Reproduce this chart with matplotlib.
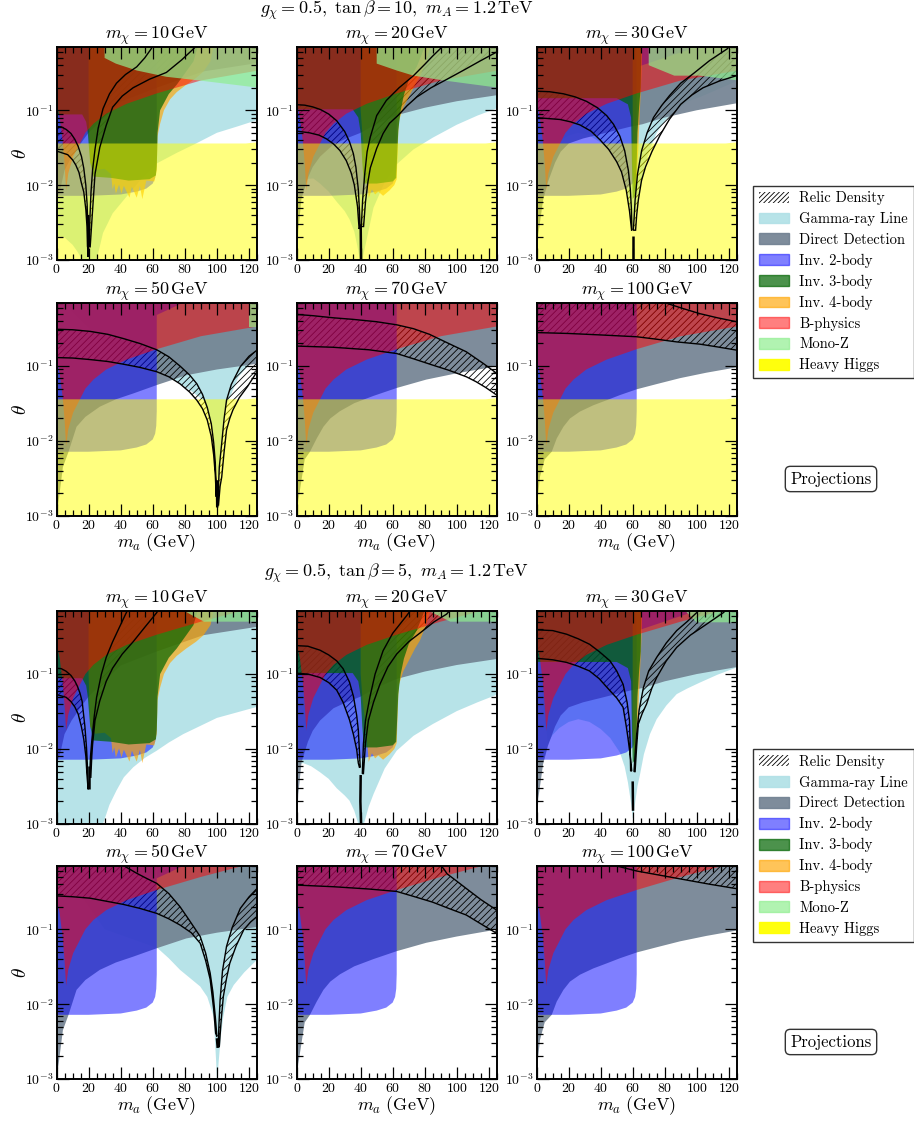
import matplotlib
matplotlib.use("Agg")
import matplotlib.pyplot as plt
from matplotlib.patches import Patch
from matplotlib.ticker import LogLocator, MultipleLocator, NullFormatter

plt.rcParams["font.family"] = ["cmr10", "DejaVu Sans"]
plt.rcParams["mathtext.fontset"] = "cm"
plt.rcParams["axes.unicode_minus"] = False
plt.rcParams["axes.formatter.use_mathtext"] = True
plt.rcParams["hatch.linewidth"] = 0.6

# every region below is an outline of (m_a [GeV], theta)
masses = [10, 20, 30, 50, 70, 100]
legend_labels = ["Relic Density", "Gamma-ray Line", "Direct Detection", "Inv. 2-body", "Inv. 3-body",
                 "Inv. 4-body", "B-physics", "Mono-Z", "Heavy Higgs"]

heavy_higgs = [(-1, .036), (118, .036), (126, .0375), (126, .0005), (-1, .0005)]

inv2_main = [(-1, .9), (-1, .0072), (20, .0072), (40, .0075), (50, .0082), (56, .009), (60, .0105), (61.5, .0125),
             (62.2, .016), (62.5, .025), (62.5, .9)]
inv2_top_m30 = [(64.6, .39), (93.7, .63), (105, .9), (64.6, .9)]
inv2_top_m50 = [(62.5, .48), (79, .7), (85, .9), (62.5, .9)]

b_physics_t10 = [(-1, .9), (-1, .125), (.4, .117), (2, .08), (3.75, .04), (5, .02), (6, .0085), (7.3, .0143),
                 (10.4, .024), (14.6, .036), (18, .05), (23, .066), (31, .09), (43.7, .122), (62.5, .168), (90, .25),
                 (126, .34), (126, .9)]
b_physics_t5 = [(-1, .9), (-1, .25), (.4, .234), (2, .163), (3.75, .08), (5, .039), (6, .0175), (7.3, .0287),
                (10.4, .048), (14.6, .072), (18, .1), (23, .133), (31, .18), (43.7, .245), (62.5, .335), (90, .5),
                (116, .7), (126, .8), (126, .9)]

dd_m10 = [(-1, .9), (-1, .0045), (1, .0072), (2.7, .0095), (5, .0158), (9.4, .024), (16.6, .04), (20, .05), (40, .13),
          (62.5, .2), (91.5, .33), (126, .43), (126, .9)]
dd_m20 = [(-1, .9), (-1, .0005), (.3, .001), (1, .0025), (3, .0066), (7, .0125), (10, .0175), (14.6, .024), (23, .035),
          (31, .042), (40, .05), (50, .066), (62.5, .086), (80, .108), (100, .132), (126, .16), (126, .9)]
dd_m30 = [(-1, .9), (-1, .0005), (.3, .001), (1, .0022), (4, .0063), (7, .011), (11.5, .02), (15, .028), (20, .036),
          (29, .042), (40, .048), (58, .06), (66, .065), (80, .08), (100, .1), (126, .125), (126, .9)]
dd_m50 = [(-1, .9), (-1, .0005), (.3, .001), (1, .0014), (4, .0045), (7.5, .0072), (12.5, .0155), (18, .021), (27, .0287),
          (37, .036), (48, .0432), (62.5, .0558), (81, .0755), (100, .09), (126, .108), (126, .9)]
dd_m70 = [(-1, .9), (-1, .0005), (.3, .001), (1, .0016), (5, .0057), (8.3, .0072), (12.5, .0108), (16.7, .0155),
          (21, .02), (27, .025), (36, .032), (48, .04), (62.5, .051), (81, .066), (100, .08), (126, .1), (126, .9)]
dd_m100 = [(-1, .9), (-1, .0005), (.4, .0015), (2, .0033), (5, .0057), (9.4, .0072), (12.5, .0108), (16.7, .0155),
           (20.8, .02), (27, .0247), (35.4, .03), (43.7, .035), (52, .041), (62.5, .049), (75, .0575), (89.6, .069),
           (106, .0815), (126, .097), (126, .9)]

inv3_m10 = [(-1, .9), (-1, .088), (16, .088), (18.5, .07), (19.5, .05), (21, .02), (23, .013), (34, .0125), (45, .0115),
            (58, .012), (62, .0135), (62.5, .018), (62.8, .03), (63, .05), (64.6, .1), (70, .165), (75, .22), (80, .31),
            (85.4, .45), (88, .7), (90, .9)]
inv3_m20 = [(-1, .9), (-1, .103), (35, .103), (38.5, .08), (40, .05), (41, .02), (42, .0105), (50, .0105), (60, .0112),
            (62.2, .0125), (62.8, .025), (63.5, .054), (65, .1), (67, .16), (70, .25), (75, .38), (78, .55), (82, .9)]
inv3_m30 = [(-1, .9), (-1, .145), (50, .145), (57, .12), (59, .08), (59.5, .02), (60, .0065), (62, .0075), (63, .05),
            (64, .11), (65, .2), (65.5, .9)]

inv4_m10 = [(20, .9), (20, .1), (21, .02), (24, .016), (30, .0165), (34, .014), (35, .0088), (36, .0105), (37, .0077),
            (39, .0102), (40.5, .0077), (42, .0098), (45.5, .0068), (47, .0095), (50, .0068), (52, .0098), (53.5, .0065),
            (56, .0115), (61, .0112), (62.5, .016), (63, .045), (64.5, .065), (67, .1), (70.8, .14), (75, .175), (81, .22),
            (87, .27), (91.7, .33), (94, .39), (96, .45), (99, .9)]
inv4_m20 = [(40, .9), (40, .1), (41, .05), (43, .02), (44, .0125), (45, .0067), (47, .0088), (49, .0075), (51, .0082),
            (54, .0072), (58, .0085), (61, .01), (62.5, .012), (63.5, .05), (64, .073), (66.7, .11), (70, .15), (74, .22),
            (77, .28), (81, .46), (85, .9)]
inv4_m30 = [(60, .9), (60, .02), (61, .0085), (62.5, .012), (63.5, .03), (64.5, .1), (65.5, .3), (66, .9)]

gamma_t10_m10 = [(-1, .9), (-1, .0021), (5, .002), (10, .0016), (13, .0013), (15, .0011), (16, .0005), (24, .0005),
                 (25, .001), (29, .0023), (35, .0042), (43.6, .007), (54, .0129), (62.5, .0195), (75, .027), (87, .036),
                 (100, .05), (113, .061), (126, .075), (126, .9)]
gamma_t10_m20 = [(-1, .9), (-1, .012), (4, .012), (10.4, .0123), (14.6, .0105), (20, .0082), (25, .006), (30, .0045),
                 (33, .0035), (36, .0024), (38, .0015), (39.5, .001), (39.5, .0005), (40.5, .0005), (41, .001), (44, .002),
                 (48, .005), (55, .011), (62.5, .019), (73, .03), (85, .043), (100, .064), (113, .085), (126, .108),
                 (126, .9)]
gamma_t10_m30 = [(-1, .9), (0, .3), (7, .024), (10, .031), (14, .038), (20, .046), (26, .05), (33, .046), (40, .037),
                 (46, .028), (52, .018), (55, .0116), (57, .0072), (59.5, .0032), (60, .0024), (60.5, .0024), (61, .0032),
                 (63, .0064), (64.6, .0092), (67, .017), (70.8, .03), (75, .05), (81, .076), (87.5, .1), (94, .13),
                 (102, .15), (126, .25), (126, .9)]
gamma_t10_m50 = [(-1, .9), (30, .2), (62, .1), (73, .0665), (78, .056), (83, .048), (91.6, .035), (94, .026), (98, .0113),
                 (100, .0041), (101, .0025), (103, .0085), (104.6, .0259), (108.3, .039), (113.5, .072), (119, .098),
                 (126, .13), (126, .9)]
gamma_t5_m10 = [(-1, .9), (-1, .0005), (27, .0005), (29, .001), (33, .0018), (37.4, .0028), (42, .0042), (47.8, .0057),
                (55, .0076), (62.5, .0095), (70, .0122), (79, .0158), (90, .0205), (100, .026), (113, .031), (126, .037),
                (126, .9)]
gamma_t5_m20 = [(-1, .9), (-1, .006), (4, .0065), (9, .0059), (14.6, .0049), (20, .004), (25, .003), (30, .0024),
                (33, .00205), (36, .0015), (38.5, .001), (39, .0005), (41, .0005), (42, .001), (45, .0017), (48, .0025),
                (55, .0055), (62.5, .0095), (73, .015), (85, .0215), (100, .032), (113, .042), (126, .054), (126, .9)]
gamma_t5_m30 = [(-1, .9), (0, .2), (7, .012), (10, .0155), (14, .019), (20, .023), (26, .025), (33, .023), (40, .0185),
                (46, .014), (52, .009), (55, .0058), (57, .0036), (59.5, .0016), (60, .0012), (60.5, .0012), (61, .0016),
                (63, .0032), (64.6, .0046), (67, .0085), (70.8, .0158), (75, .025), (81, .038), (87.5, .054), (94, .064),
                (102, .077), (113, .098), (126, .125), (126, .9)]
gamma_t5_m50 = [(-1, .9), (30, .1), (63, .056), (70, .041), (77, .0287), (83, .0225), (89.6, .0172), (94, .0125), (98, .0068),
                (99.6, .0016), (100, .001), (100.4, .001), (101, .0016), (102.5, .0038), (104, .0068), (106.5, .0125),
                (110.5, .018), (117, .0265), (126, .041), (126, .9)]

z_t10_m10 = [(30, .9), (30, .5), (37, .42), (50, .34), (68.5, .28), (89, .25), (126, .2), (126, .9)]
z_t10_m20 = [(50, .9), (50, .42), (62.5, .34), (73, .29), (92, .25), (126, .2), (126, .9)]
z_t10_m30 = [(70, .9), (70, .4), (86, .29), (102, .29), (126, .25), (126, .9)]
z_t10_m50 = [(120, .9), (120, .33), (126, .33), (126, .9)]
z_t5_m10 = [(80, .9), (80, .69), (85, .6), (92, .5), (126, .5), (126, .9)]
z_t5_m20 = [(83, .9), (83, .69), (96, .5), (126, .5), (126, .9)]
z_t5_m30 = [(93, .9), (93, .69), (100, .49), (126, .49), (126, .9)]

relic_t10_m10_l = [(-1, .061), (3, .06), (6, .0555), (9, .049), (11.4, .041), (13.5, .033), (15.6, .024), (17, .0168),
                   (18.3, .0099), (19.1, .0055), (19.6, .0025), (19.8, .0015), (19.6, .0011), (19, .0028), (18.3, .0047),
                   (17, .0081), (15.6, .0105), (14, .0148), (12, .0186), (10, .0218), (7, .0255), (-1, .029)]
relic_t10_m10_r = [(20.3, .0015), (20.8, .0035), (21.5, .008), (22.5, .016), (24, .03), (26, .058), (29, .105), (33, .165),
                   (37.4, .23), (43, .3), (50, .38), (55, .5), (59, .66), (62, .9), (88, .9), (86, .68), (78, .47),
                   (68.5, .32), (58, .26), (47.8, .2), (41, .155), (35, .11), (31, .063), (27, .032), (24, .014),
                   (22.3, .004), (21, .0015)]
relic_t10_m20_l = [(-1, .119), (5, .117), (10, .111), (15, .102), (20, .089), (25, .0725), (30, .052), (33, .038),
                   (35.4, .0264), (37, .0174), (38.5, .0088), (39.2, .0047), (39.6, .0028), (39, .0026), (38, .0052),
                   (36, .0101), (34, .0147), (31, .0212), (27, .029), (23, .0355), (18.7, .0414), (14, .0465), (8, .05),
                   (-1, .053)]
relic_t10_m20_r = [(40.4, .0028), (41.2, .0063), (42.5, .014), (44, .028), (46, .044), (50, .085), (56, .135), (64, .2),
                   (73, .29), (80, .41), (85, .53), (89.6, .66), (93, .9), (128, .9), (128, .65), (125, .6), (115, .46),
                   (104, .34), (94, .26), (84, .2), (75, .15), (69, .115), (63.5, .086), (58, .067), (54, .049), (50, .031),
                   (46, .017), (44.5, .011), (43, .006), (41.8, .0028)]
relic_t10_m30_l = [(-1, .18), (8, .177), (16.7, .166), (24, .151), (31, .132), (38, .108), (43.7, .085), (48, .065),
                   (52, .045), (55, .0288), (57.3, .0157), (58.5, .0089), (59.2, .0048), (59.5, .0025), (59.3, .0025),
                   (58, .0045), (56, .0085), (53, .015), (50, .0205), (45, .03), (39.7, .04), (34, .0525), (27, .0638),
                   (21, .0702), (14.6, .0753), (-1, .08)]
relic_t10_m30_r = [(60.4, .0025), (61, .004), (61.5, .0063), (63, .014), (65.6, .029), (69, .05), (73, .08), (78, .115),
                   (83, .157), (90, .23), (98, .31), (108, .46), (119, .66), (124, .85), (128, .9), (128, .3), (125, .29),
                   (114, .245), (104, .2), (97, .16), (90, .12), (83, .076), (77, .046), (72, .028), (68, .0175),
                   (65.5, .0115), (63.5, .0063), (62.5, .004), (61.8, .0025)]
relic_t10_m50_l = [(-1, .31), (10, .305), (21, .29), (32, .265), (41.6, .233), (52, .2), (62.5, .165), (70, .133),
                   (77, .1), (83, .076), (87.5, .058), (91, .042), (94, .028), (96.5, .017), (98, .0095), (99, .0052),
                   (99.6, .0024), (99.6, .0018), (99, .0035), (98, .0065), (96.5, .0115), (94, .019), (91, .027),
                   (87.5, .035), (83, .045), (77, .058), (70, .072), (62.5, .084), (52, .096), (41.6, .106), (32, .115),
                   (21, .122), (10, .128), (-1, .13)]
relic_t10_m50_r = [(100.5, .0014), (101.5, .0045), (103, .0093), (104.5, .02), (106, .035), (109, .057), (114.6, .098),
                   (120, .135), (125, .163), (128, .19), (128, .09), (125, .084), (119, .053), (114, .038), (110, .026),
                   (108, .02), (106, .014), (104.5, .0072), (103, .0033), (102, .0025), (101, .0014)]
relic_t10_m70 = [(-1, .49), (10, .47), (23, .44), (35, .42), (50, .39), (62.5, .355), (73, .315), (83, .265), (95, .2),
                 (106, .155), (116.7, .108), (125, .08), (128, .07), (128, .038), (125, .041), (118, .052), (112, .062),
                 (106, .072), (95, .088), (85, .103), (73, .125), (62.5, .147), (45, .165), (23, .178), (-1, .185)]
relic_t10_m100 = [(-1, .9), (70, .9), (81, .69), (92, .58), (102, .5), (113, .44), (125, .39), (128, .37), (128, .16),
                  (125, .163), (113, .18), (102, .196), (87.5, .21), (75, .228), (62.5, .246), (40, .26), (20, .272),
                  (-1, .28)]

relic_t5_m10_l = [(-1, .12), (3, .118), (6, .109), (9, .096), (11.4, .081), (13, .069), (14.6, .056), (16, .043),
                  (17.7, .02), (18.7, .0105), (19.2, .0065), (19.7, .003), (19.7, .0029), (19, .0045), (18.3, .008),
                  (17, .0135), (15.6, .0195), (13.5, .0294), (11.4, .0365), (9, .043), (6, .049), (-1, .054)]
relic_t5_m10_r = [(20.6, .0042), (21.2, .008), (22, .0129), (23.5, .027), (25, .049), (28, .1), (31, .167), (35, .27),
                  (41.6, .54), (46, .85), (47, .9), (66, .9), (62.5, .66), (55, .42), (47.8, .27), (41, .185), (35, .12),
                  (31, .08), (27, .044), (24, .024), (22.5, .0115), (22, .008), (21.4, .0042)]
relic_t5_m20_l = [(-1, .24), (7, .235), (14.6, .208), (20, .18), (25, .15), (29, .118), (33, .078), (35.5, .05),
                  (37.5, .028), (38.5, .018), (39.2, .0095), (39.7, .0057), (39.2, .0057), (38.5, .0065), (37.5, .0098),
                  (35.5, .0155), (33, .0245), (29, .042), (25, .061), (20, .077), (14.6, .09), (7, .1), (-1, .103)]
relic_t5_m20_r = [(41, .0047), (41.7, .0117), (43, .024), (45.8, .05), (49, .1), (54, .205), (60, .35), (68.7, .6), (72, .75),
                  (75, .9), (100, .9), (93.7, .63), (86, .5), (79, .38), (70, .27), (62.5, .185), (57, .125), (52, .073),
                  (48, .042), (44.8, .024), (43, .012), (41.7, .0047)]
relic_t5_m30_l = [(-1, .39), (10, .38), (18.7, .34), (26, .295), (33, .25), (39, .2), (45.8, .15), (50, .11), (54, .073),
                  (56.5, .042), (58, .024), (58.4, .012), (58.7, .0051), (59.4, .0051), (58.5, .008), (57, .0143),
                  (56, .02), (54, .036), (50, .048), (45.8, .06), (39, .087), (33, .11), (26, .127), (18.7, .143), (10, .155),
                  (-1, .163)]
relic_t5_m30_r = [(60.8, .005), (61.5, .0085), (62.5, .0158), (64, .033), (66.7, .066), (70, .11), (75, .167), (81, .26),
                  (87.5, .38), (94, .5), (100, .66), (105, .9), (123, .9), (116.7, .66), (106, .46), (96, .33), (87.5, .227),
                  (81, .15), (75, .09), (72, .065), (68.7, .04), (66, .03), (63.5, .0215), (62.5, .011), (61.5, .005)]
relic_t5_m50_l = [(-1, .9), (38, .9), (42.7, .69), (50, .56), (56, .48), (62.5, .41), (70, .3), (77, .2), (83, .13),
                  (89.6, .08), (93, .048), (95.8, .026), (97.5, .0145), (99, .0068), (100, .0037), (99.2, .0041),
                  (98, .0085), (95.8, .0214), (93, .038), (89.6, .065), (84, .09), (77, .114), (70, .138), (62.5, .163),
                  (52, .19), (41.6, .215), (21, .26), (10, .272), (-1, .28)]
relic_t5_m50_r = [(100.8, .0027), (101.3, .0055), (102, .0114), (103.5, .028), (106, .059), (109.5, .105), (114.6, .19),
                  (120, .27), (125, .35), (128, .4), (128, .16), (125, .148), (121, .125), (116.7, .098), (112, .06),
                  (108, .035), (106, .022), (104, .0126), (102.5, .0055), (101.5, .0027)]
relic_t5_m70 = [(-1, .9), (85, .9), (91.7, .65), (94, .55), (100, .44), (106, .35), (115, .25), (125, .18), (128, .17),
                (128, .082), (125, .088), (116, .115), (106, .155), (95, .19), (85, .23), (73, .275), (62.5, .32),
                (45, .345), (23, .37), (-1, .39)]
relic_t5_m100 = [(35, .9), (50, .7), (62.5, .6), (87.5, .48), (108, .4), (128, .34), (128, .9)]

tip_t10_m10 = [(19.8, .004), (19.7, .0015)]
tip_t10_m20 = [(40, .003), (40.2, .001)]
tip_t10_m30 = [(60, .0021), (60, .001)]
tip_t10_m50 = [(100, .003), (100.2, .0013)]
tip_t5_m10 = [(20, .006), (20, .0029)]
tip_t5_m20 = [(40, .0045), (39.8, .002), (40.2, .001)]
tip_t5_m30 = [(60, .0037), (60.2, .0015)]
tip_t5_m50 = [(100, .0035), (100.5, .0026)]

gamma_c, gamma_a = "powderblue", .9
dd_c, dd_a = "slategray", .9
inv2_c, inv2_a = "blue", .5
inv3_c, inv3_a = "darkgreen", .7
inv4_c, inv4_a = "orange", .65
b_c, b_a = "red", .5
z_c, z_a = "lightgreen", .7
higgs_c, higgs_a = "yellow", .5


def region(ax, pts, color, alpha):
    if pts is None:
        return
    xs, ys = zip(*pts)
    ax.fill(xs, ys, color=color, alpha=alpha, linewidth=0)


def box(fig, left, top, right, bottom):
    w, h = fig.get_size_inches() * fig.dpi
    return fig.add_axes([left / w, 1 - bottom / h, (right - left) / w, (bottom - top) / h])


def draw_panel(ax, mass, gamma, dd, inv3, inv4, inv2_top, b_phys, z, relics, tip, higgs):
    region(ax, gamma, gamma_c, gamma_a)
    region(ax, dd, dd_c, dd_a)
    for r in relics:
        xs, ys = zip(*r)
        ax.fill(xs, ys, facecolor="none", edgecolor="black", hatch="/////", linewidth=0)
    region(ax, inv2_main, inv2_c, inv2_a)
    region(ax, inv2_top, inv2_c, inv2_a)
    region(ax, inv4, inv4_c, inv4_a)
    region(ax, inv3, inv3_c, inv3_a)
    region(ax, b_phys, b_c, b_a)
    region(ax, z, z_c, z_a)
    if higgs:
        region(ax, heavy_higgs, higgs_c, higgs_a)
    for r in relics:
        xs, ys = zip(*r)
        ax.fill(xs, ys, fill=False, edgecolor="black", linewidth=1.0)
    if tip is not None:
        xs, ys = zip(*tip)
        ax.plot(xs, ys, color="black", linewidth=1.8, solid_capstyle="butt")

    ax.set_xscale("linear")
    ax.set_yscale("log")
    ax.set_xlim(0, 125)
    ax.set_ylim(1e-3, .7)
    ax.xaxis.set_major_locator(MultipleLocator(20))
    ax.xaxis.set_minor_locator(MultipleLocator(5))
    ax.yaxis.set_major_locator(LogLocator(10, numticks=10))
    ax.yaxis.set_minor_locator(LogLocator(10, subs=range(2, 10), numticks=10))
    ax.yaxis.set_minor_formatter(NullFormatter())
    ax.tick_params(which="major", direction="in", top=True, right=True, length=8.5, width=.9, labelsize=10, pad=2.5)
    ax.tick_params(which="minor", direction="in", top=True, right=True, length=4.3, width=.9)
    for s in ax.spines.values():
        s.set_linewidth(1.4)
    ax.set_title(r"$m_\chi = %d\,\mathrm{GeV}$" % mass, fontsize=13, pad=3)


def draw_block(fig, top_rows, tan_label, title_y, legend_top, proj_y, gammas, dds, inv3s, inv4s, inv2_tops, b_phys, zs,
               relics, tips, higgs):
    columns = [(56.5, 257), (296.7, 496.7), (536.7, 736.7)]
    for i, mass in enumerate(masses):
        left, right = columns[i % 3]
        top, bottom = top_rows[i // 3]
        ax = box(fig, left, top, right, bottom)
        draw_panel(ax, mass, gammas[i], dds[i], inv3s[i], inv4s[i], inv2_tops[i], b_phys, zs[i], relics[i], tips[i], higgs)
        if i % 3 == 0:
            ax.set_ylabel(r"$\theta$", fontsize=14, labelpad=-4)
        if i // 3 == 1:
            ax.set_xlabel(r"$m_a\ (\mathrm{GeV})$", fontsize=13, labelpad=-1)

    w, h = fig.get_size_inches() * fig.dpi
    fig.text(397 / w, 1 - title_y / h, r"$g_\chi = 0.5,\ \tan\beta = %d,\ m_A = 1.2\,\mathrm{TeV}$" % tan_label,
             fontsize=13, ha="center", va="center")

    handles = [Patch(facecolor="white", edgecolor="black", hatch="///////", linewidth=0),
               Patch(color=gamma_c, alpha=gamma_a), Patch(color=dd_c, alpha=dd_a), Patch(color=inv2_c, alpha=inv2_a),
               Patch(color=inv3_c, alpha=inv3_a), Patch(color=inv4_c, alpha=inv4_a), Patch(color=b_c, alpha=b_a),
               Patch(color=z_c, alpha=z_a), Patch(color=higgs_c, alpha=.95)]
    leg = fig.legend(handles, legend_labels, loc="upper left", bbox_to_anchor=(753 / w, 1 - legend_top / h),
                     borderaxespad=0, fontsize=10.5, handlelength=2.06, handleheight=.76, handletextpad=.72,
                     borderpad=.4, labelspacing=.47, fancybox=False, framealpha=1, edgecolor="#333333")
    leg.get_frame().set_linewidth(1)
    fig.text(831 / w, 1 - proj_y / h, "Projections", fontsize=12, ha="center", va="center",
             bbox=dict(boxstyle="round,pad=0.3", facecolor="white", edgecolor="#333333", linewidth=1))


def main():
    fig = plt.figure(figsize=(9.14, 11.22), dpi=100)

    draw_block(fig, [(47, 260), (302.7, 516)], 10, 10, 185.5, 479,
               [gamma_t10_m10, gamma_t10_m20, gamma_t10_m30, gamma_t10_m50, None, None],
               [dd_m10, dd_m20, dd_m30, dd_m50, dd_m70, dd_m100],
               [inv3_m10, inv3_m20, inv3_m30, None, None, None],
               [inv4_m10, inv4_m20, inv4_m30, None, None, None],
               [None, None, inv2_top_m30, inv2_top_m50, None, None],
               b_physics_t10,
               [z_t10_m10, z_t10_m20, z_t10_m30, z_t10_m50, None, None],
               [[relic_t10_m10_l, relic_t10_m10_r], [relic_t10_m20_l, relic_t10_m20_r],
                [relic_t10_m30_l, relic_t10_m30_r], [relic_t10_m50_l, relic_t10_m50_r],
                [relic_t10_m70], [relic_t10_m100]],
               [tip_t10_m10, tip_t10_m20, tip_t10_m30, tip_t10_m50, None, None], True)

    draw_block(fig, [(610.7, 824), (866, 1079)], 5, 573, 749, 1042,
               [gamma_t5_m10, gamma_t5_m20, gamma_t5_m30, gamma_t5_m50, None, None],
               [dd_m10, dd_m20, dd_m30, dd_m50, dd_m70, dd_m100],
               [inv3_m10, inv3_m20, inv3_m30, None, None, None],
               [inv4_m10, inv4_m20, inv4_m30, None, None, None],
               [None, None, inv2_top_m30, inv2_top_m50, None, None],
               b_physics_t5,
               [z_t5_m10, z_t5_m20, z_t5_m30, None, None, None],
               [[relic_t5_m10_l, relic_t5_m10_r], [relic_t5_m20_l, relic_t5_m20_r],
                [relic_t5_m30_l, relic_t5_m30_r], [relic_t5_m50_l, relic_t5_m50_r],
                [relic_t5_m70], [relic_t5_m100]],
               [tip_t5_m10, tip_t5_m20, tip_t5_m30, tip_t5_m50, None, None], False)

    fig.savefig("out.png", dpi=100)


if __name__ == "__main__":
    main()
